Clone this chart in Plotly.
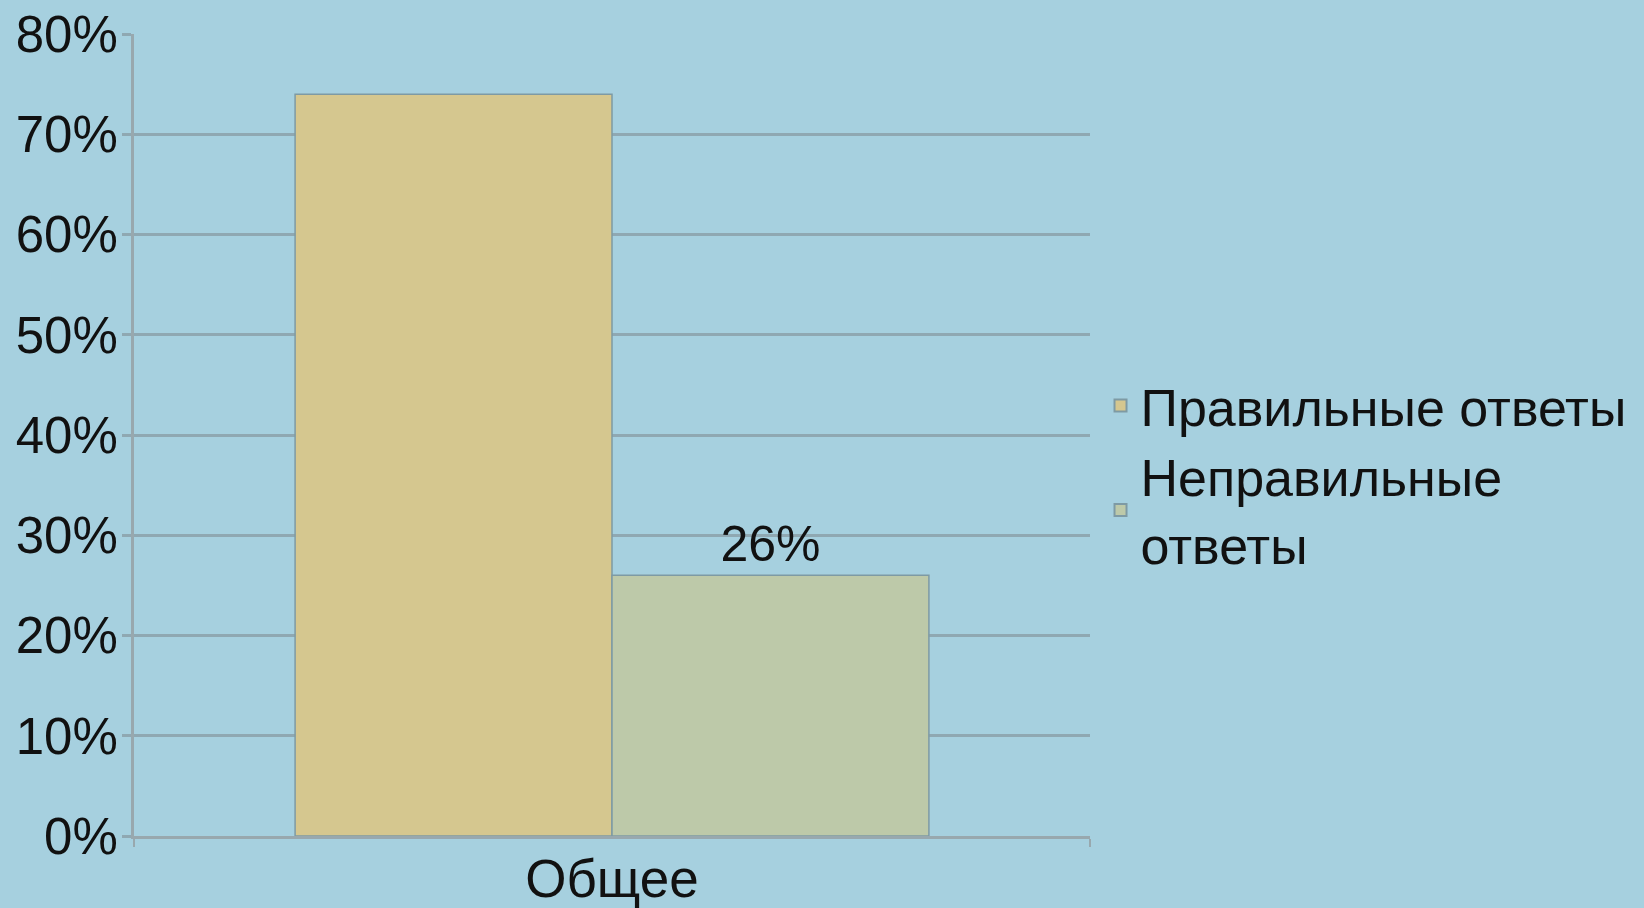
import plotly.graph_objects as go

categories = ["Общее"]
series_names = ["Правильные ответы", "Неправильные<br>ответы"]
correct_values = [74]
wrong_values = [26]
wrong_labels = ["26%"]
tick_values = [0, 10, 20, 30, 40, 50, 60, 70, 80]
tick_labels = ["0%", "10%", "20%", "30%", "40%", "50%", "60%", "70%", "80%"]

BG = "#A6D0DF"
FONT = "Liberation Sans, Arial, sans-serif"

fig = go.Figure()
fig.add_trace(go.Bar(
    x=categories, y=correct_values, name=series_names[0],
    marker=dict(color="#D5C78F", line=dict(color="#7E9AA4", width=1.5)),
    hoverinfo="y",
))
fig.add_trace(go.Bar(
    x=categories, y=wrong_values, name=series_names[1],
    marker=dict(color="#BDC9A9", line=dict(color="#7E9AA4", width=1.5)),
    text=wrong_labels, textposition="outside", cliponaxis=False,
    textfont=dict(size=50, color="#111111", family=FONT),
))

fig.update_layout(
    width=1644, height=908,
    paper_bgcolor=BG, plot_bgcolor=BG,
    barmode="group", bargap=0.337, bargroupgap=0,
    margin=dict(l=134, r=554, t=34, b=72, pad=0, autoexpand=False),
    font=dict(family=FONT, size=50, color="#111111"),
    showlegend=True,
    legend=dict(
        x=1.011, xanchor="left", y=0.587, yanchor="top",
        font=dict(size=52, family=FONT, color="#111111"),
        bgcolor="rgba(0,0,0,0)", itemsizing="constant",
        tracegroupgap=0, valign="middle",
    ),
)
fig.update_xaxes(
    showline=True, linecolor="#98A8AE", linewidth=3,
    ticks="outside", tickson="boundaries", ticklen=8, tickcolor="#98A8AE", tickwidth=2,
    tickfont=dict(size=53, family=FONT, color="#111111"),
    ticklabelstandoff=-6,
    showgrid=False, zeroline=False, automargin=False,
)
fig.update_yaxes(
    range=[0, 80], tickvals=tick_values, ticktext=tick_labels,
    showline=True, linecolor="#98A8AE", linewidth=3,
    ticks="outside", ticklen=9, tickcolor="#8FA8B2", tickwidth=3,
    ticklabelstandoff=-6,
    showgrid=True, gridcolor="#8FA8B2", gridwidth=3,
    zeroline=False, automargin=False,
    tickfont=dict(size=51, family=FONT, color="#111111"),
)

fig.write_html(
    "out.html",
    config={"displayModeBar": False},
    post_script="document.body.style.margin='0';document.body.style.overflow='hidden';",
)
